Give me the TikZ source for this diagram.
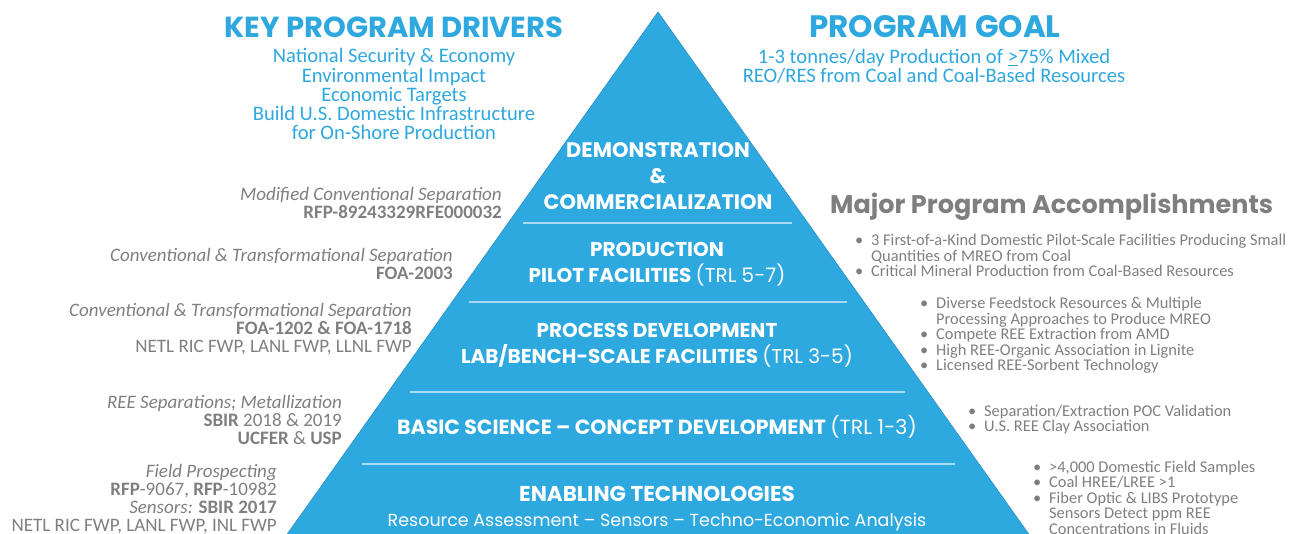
\documentclass[tikz,border=0pt]{standalone}
\usepackage{fontspec}
\setmainfont{Carlito}
\newfontfamily\gothic{Poppins}
\usetikzlibrary{positioning}

\definecolor{pyrblue}{HTML}{2EA9E0}
\definecolor{pyredge}{HTML}{2A90C4}
\definecolor{pyrline}{HTML}{A9DAF3}
\definecolor{headblue}{HTML}{2EA8DF}
\definecolor{txtgray}{HTML}{7F7F7F}

\newcommand\bul{\makebox[16pt][l]{\textbullet}}
\newcommand\ind{\hspace*{16pt}}

\begin{document}
\begin{tikzpicture}[x=1pt,y=-1pt,
    tier/.style={text=white,font=\gothic\bfseries\fontsize{20}{26}\selectfont,align=center,anchor=base,inner sep=0pt},
    heading/.style={text=headblue,font=\gothic\bfseries\fontsize{29}{30}\selectfont,anchor=base,inner sep=0pt},
    driver/.style={text=headblue,font=\fontsize{20.6}{19.3}\selectfont,align=center,anchor=base,inner sep=0pt},
    fund/.style={text=txtgray,font=\fontsize{19}{18.3}\selectfont,align=right,anchor=base east,inner sep=0pt},
    acc/.style={text=txtgray,font=\fontsize{16.4}{15.5}\selectfont,align=left,anchor=base west,inner sep=0pt},
    divider/.style={pyrline,line width=1.6pt}]
\useasboundingbox (0,0) rectangle (1302,534);

% pyramid
\begin{scope}
  \clip (0,0) rectangle (1302,534);
  \fill[pyrblue,draw=pyredge,line width=.6pt] (658,12) coordinate (apex)
    -- (283,540) coordinate (bl) -- (1033,540) coordinate (br) -- cycle;
\end{scope}
\draw[divider] (523,223) -- (792,223);
\draw[divider] (469,302) -- (847,302);
\draw[divider] (410,392) -- (905,392);
\draw[divider] (362,464) -- (955,464);

% tiers (anchor = baseline of the last line)
\node[tier,font=\gothic\bfseries\fontsize{21}{26}\selectfont] (demo) at (658,210) {DEMONSTRATION\\\&\\COMMERCIALIZATION};
\node[tier] (prod) at (657,283) {PRODUCTION\\PILOT FACILITIES {\mdseries(TRL 5-7)}};
\node[tier] (proc) at (657,364) {PROCESS DEVELOPMENT\\LAB/BENCH-SCALE FACILITIES {\mdseries(TRL 3-5)}};
\node[tier,font=\gothic\bfseries\fontsize{20.5}{26}\selectfont] (basic) at (657,435) {BASIC SCIENCE \textendash{} CONCEPT DEVELOPMENT {\mdseries(TRL 1-3)}};
\node[tier,font=\gothic\bfseries\fontsize{21.5}{26}\selectfont] (enab) at (657,502) {ENABLING TECHNOLOGIES};
\node[tier,font=\gothic\fontsize{17.5}{18}\selectfont] (enabsub) at (657,526)
  {Resource Assessment \textendash{} Sensors \textendash{} Techno-Economic Analysis};

% headings
\node[heading] (drivers) at (394,38) {KEY PROGRAM DRIVERS};
\node[driver] (driverlist) at (394,140) {National Security \& Economy\\Environmental Impact\\Economic Targets\\Build U.S. Domestic Infrastructure\\for On-Shore Production};
\node[heading,font=\gothic\bfseries\fontsize{31}{30}\selectfont] (goal) at (935,38) {PROGRAM GOAL};
\node[driver] (goaltext) at (934,83) {1-3 tonnes/day Production of \underline{>}75\% Mixed\\REO/RES from Coal and Coal-Based Resources};

% funding on the left
\node[fund] (f1) at (502,219) {\textit{Modified Conventional Separation}\\\textbf{RFP-89243329RFE000032}};
\node[fund] (f2) at (453,280) {\textit{Conventional \& Transformational Separation}\\\textbf{FOA-2003}};
\node[fund] (f3) at (412,353) {\textit{Conventional \& Transformational Separation}\\\textbf{FOA-1202 \& FOA-1718}\\NETL RIC FWP, LANL FWP, LLNL FWP};
\node[fund] (f4) at (342,445) {\textit{REE Separations; Metallization}\\\textbf{SBIR} 2018 \& 2019\\\textbf{UCFER} \& \textbf{USP}};
\node[fund] (f5) at (277,532) {\textit{Field Prospecting}\\\textbf{RFP}-9067, \textbf{RFP}-10982\\\textit{Sensors:} \textbf{SBIR 2017}\\NETL RIC FWP, LANL FWP, INL FWP};

% accomplishments on the right
\node[heading,text=txtgray,font=\gothic\bfseries\fontsize{25.5}{27}\selectfont,anchor=base west] (major) at (830,214) {Major Program Accomplishments};
\node[acc] (a1) at (855,277) {\bul 3 First-of-a-Kind Domestic Pilot-Scale Facilities Producing Small\\\ind Quantities of MREO from Coal\\\bul Critical Mineral Production from Coal-Based Resources};
\node[acc] (a2) at (920,371) {\bul Diverse Feedstock Resources \& Multiple\\\ind Processing Approaches to Produce MREO\\\bul Compete REE Extraction from AMD\\\bul High REE-Organic Association in Lignite\\\bul Licensed REE-Sorbent Technology};
\node[acc] (a3) at (968,432) {\bul Separation/Extraction POC Validation\\\bul U.S. REE Clay Association};
\node[acc] (a4) at (1033,534) {\bul >4,000 Domestic Field Samples\\\bul Coal HREE/LREE >1\\\bul Fiber Optic \& LIBS Prototype\\\ind Sensors Detect ppm REE\\\ind Concentrations in Fluids};
\end{tikzpicture}
\end{document}
